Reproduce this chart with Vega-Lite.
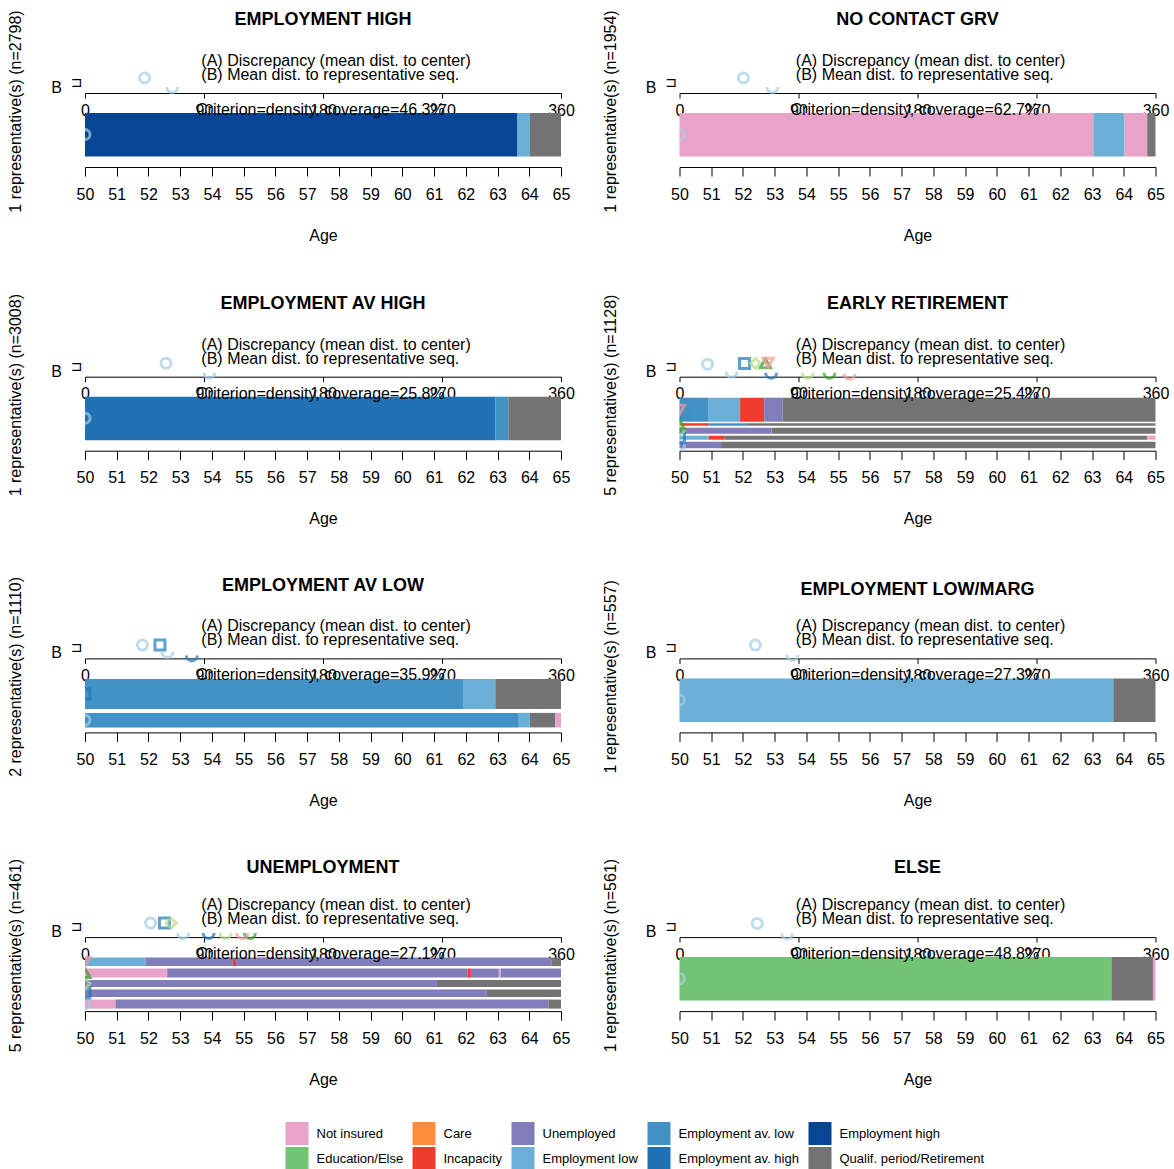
{
"$schema": "https://vega.github.io/schema/vega-lite/v6.json",
"background": "white",
"padding": {"left": 7, "top": 9, "right": 0, "bottom": 0},
"config": {
 "font": "Liberation Sans",
 "view": {"stroke": null},
 "title": {"fontSize": 18, "fontWeight": "bold", "color": "#000", "offset": -19, "anchor": "middle", "font": "Liberation Sans"},
 "axis": {"grid": false, "domainColor": "#000", "tickColor": "#000", "labelColor": "#000", "titleColor": "#000", "labelFontSize": 16, "titleFontSize": 16, "titleFontWeight": "normal", "labelFlush": false, "labelOverlap": false, "labelFont": "Liberation Sans", "titleFont": "Liberation Sans"},
 "axisBottom": {"tickSize": 9, "labelPadding": 10, "titlePadding": 25},
 "axisTop": {"tickSize": -5, "labelPadding": -12, "labelBaseline": "middle"},
 "legend": {"labelFont": "Liberation Sans", "labelColor": "#000"},
 "text": {"fontSize": 16, "font": "Liberation Sans", "color": "#000"}
},
"datasets": {
 "bars": [
  {"p":"EH","s":50,"e":63.63,"y0":20,"y1":63.5,"st":"Employment high"},
  {"p":"EH","s":63.63,"e":64.02,"y0":20,"y1":63.5,"st":"Employment low"},
  {"p":"EH","s":64.02,"e":65,"y0":20,"y1":63.5,"st":"Qualif. period/Retirement"},
  {"p":"NC","s":50,"e":63.04,"y0":20,"y1":63.5,"st":"Not insured"},
  {"p":"NC","s":63.04,"e":64.02,"y0":20,"y1":63.5,"st":"Employment low"},
  {"p":"NC","s":64.02,"e":64.74,"y0":20,"y1":63.5,"st":"Not insured"},
  {"p":"NC","s":64.74,"e":65,"y0":20,"y1":63.5,"st":"Qualif. period/Retirement"},
  {"p":"AH","s":50,"e":62.93,"y0":20,"y1":63.5,"st":"Employment av. high"},
  {"p":"AH","s":62.93,"e":63.34,"y0":20,"y1":63.5,"st":"Employment av. low"},
  {"p":"AH","s":63.34,"e":65,"y0":20,"y1":63.5,"st":"Qualif. period/Retirement"},
  {"p":"ER","s":50,"e":50.92,"y0":21,"y1":45,"st":"Employment av. low"},
  {"p":"ER","s":50.92,"e":51.91,"y0":21,"y1":45,"st":"Employment low"},
  {"p":"ER","s":51.91,"e":52.67,"y0":21,"y1":45,"st":"Incapacity"},
  {"p":"ER","s":52.67,"e":53.25,"y0":21,"y1":45,"st":"Unemployed"},
  {"p":"ER","s":53.25,"e":65,"y0":21,"y1":45,"st":"Qualif. period/Retirement"},
  {"p":"ER","s":50,"e":50.92,"y0":46.5,"y1":49,"st":"Incapacity"},
  {"p":"ER","s":50.92,"e":52.1,"y0":46.5,"y1":49,"st":"Employment av. low"},
  {"p":"ER","s":52.1,"e":65,"y0":46.5,"y1":49,"st":"Qualif. period/Retirement"},
  {"p":"ER","s":50,"e":52.9,"y0":51,"y1":57,"st":"Unemployed"},
  {"p":"ER","s":52.9,"e":65,"y0":51,"y1":57,"st":"Qualif. period/Retirement"},
  {"p":"ER","s":50,"e":50.92,"y0":59,"y1":63,"st":"Employment low"},
  {"p":"ER","s":50.92,"e":51.41,"y0":59,"y1":63,"st":"Incapacity"},
  {"p":"ER","s":51.41,"e":64.73,"y0":59,"y1":63,"st":"Qualif. period/Retirement"},
  {"p":"ER","s":64.73,"e":65,"y0":59,"y1":63,"st":"Not insured"},
  {"p":"ER","s":50,"e":51.31,"y0":65,"y1":71.5,"st":"Unemployed"},
  {"p":"ER","s":51.31,"e":65,"y0":65,"y1":71.5,"st":"Qualif. period/Retirement"},
  {"p":"AL","s":50,"e":61.91,"y0":20.5,"y1":50.5,"st":"Employment av. low"},
  {"p":"AL","s":61.91,"e":62.93,"y0":20.5,"y1":50.5,"st":"Employment low"},
  {"p":"AL","s":62.93,"e":65,"y0":20.5,"y1":50.5,"st":"Qualif. period/Retirement"},
  {"p":"AL","s":50,"e":63.67,"y0":54.5,"y1":69,"st":"Employment av. low"},
  {"p":"AL","s":63.67,"e":64.02,"y0":54.5,"y1":69,"st":"Employment low"},
  {"p":"AL","s":64.02,"e":64.82,"y0":54.5,"y1":69,"st":"Qualif. period/Retirement"},
  {"p":"AL","s":64.82,"e":65,"y0":54.5,"y1":69,"st":"Not insured"},
  {"p":"LM","s":50,"e":63.67,"y0":20,"y1":63.5,"st":"Employment low"},
  {"p":"LM","s":63.67,"e":65,"y0":20,"y1":63.5,"st":"Qualif. period/Retirement"},
  {"p":"UN","s":50,"e":51.91,"y0":20.5,"y1":29,"st":"Employment low"},
  {"p":"UN","s":51.91,"e":54.66,"y0":20.5,"y1":29,"st":"Unemployed"},
  {"p":"UN","s":54.66,"e":54.76,"y0":20.5,"y1":29,"st":"Incapacity"},
  {"p":"UN","s":54.76,"e":64.71,"y0":20.5,"y1":29,"st":"Unemployed"},
  {"p":"UN","s":64.71,"e":65,"y0":20.5,"y1":29,"st":"Qualif. period/Retirement"},
  {"p":"UN","s":50,"e":52.59,"y0":31.5,"y1":40.5,"st":"Not insured"},
  {"p":"UN","s":52.59,"e":62.06,"y0":31.5,"y1":40.5,"st":"Unemployed"},
  {"p":"UN","s":62.06,"e":62.16,"y0":31.5,"y1":40.5,"st":"Incapacity"},
  {"p":"UN","s":62.16,"e":63.04,"y0":31.5,"y1":40.5,"st":"Unemployed"},
  {"p":"UN","s":63.04,"e":63.1,"y0":31.5,"y1":40.5,"st":"Not insured"},
  {"p":"UN","s":63.1,"e":65,"y0":31.5,"y1":40.5,"st":"Unemployed"},
  {"p":"UN","s":50,"e":61.09,"y0":43,"y1":50,"st":"Unemployed"},
  {"p":"UN","s":61.09,"e":65,"y0":43,"y1":50,"st":"Qualif. period/Retirement"},
  {"p":"UN","s":50,"e":62.66,"y0":52.5,"y1":60,"st":"Unemployed"},
  {"p":"UN","s":62.66,"e":65,"y0":52.5,"y1":60,"st":"Qualif. period/Retirement"},
  {"p":"UN","s":50,"e":50.96,"y0":62.5,"y1":71.5,"st":"Not insured"},
  {"p":"UN","s":50.96,"e":64.6,"y0":62.5,"y1":71.5,"st":"Unemployed"},
  {"p":"UN","s":64.6,"e":65,"y0":62.5,"y1":71.5,"st":"Qualif. period/Retirement"},
  {"p":"EL","s":50,"e":63.61,"y0":20,"y1":63.5,"st":"Education/Else"},
  {"p":"EL","s":63.61,"e":64.92,"y0":20,"y1":63.5,"st":"Qualif. period/Retirement"},
  {"p":"EL","s":64.92,"e":65,"y0":20,"y1":63.5,"st":"Not insured"}
 ],
 "marks": [
  {"p":"EH","r":"1","k":"A","d":45,"y":-15},
  {"p":"EH","r":"1","k":"B","d":66,"y":-6},
  {"p":"EH","r":"1","k":"L","d":0,"y":41.5},
  {"p":"NC","r":"1","k":"A","d":48.4,"y":-15},
  {"p":"NC","r":"1","k":"B","d":70.3,"y":-6},
  {"p":"NC","r":"1","k":"L","d":0,"y":41.5},
  {"p":"AH","r":"1","k":"A","d":61.3,"y":-13.5},
  {"p":"AH","r":"1","k":"B","d":94,"y":-4},
  {"p":"AH","r":"1","k":"L","d":0,"y":41.5},
  {"p":"ER","r":"1","k":"A","d":21.2,"y":-12.5},
  {"p":"ER","r":"1","k":"B","d":39.3,"y":-5},
  {"p":"ER","r":"1","k":"L","d":0,"y":68.5},
  {"p":"ER","r":"2","k":"A","d":49.2,"y":-13.3},
  {"p":"ER","r":"2","k":"B","d":69.3,"y":-4},
  {"p":"ER","r":"2","k":"L","d":0,"y":61},
  {"p":"ER","r":"3","k":"A","d":57.5,"y":-13.3},
  {"p":"ER","r":"3","k":"B","d":97,"y":-4},
  {"p":"ER","r":"3","k":"L","d":0,"y":54},
  {"p":"ER","r":"4","k":"A","d":65,"y":-13.3},
  {"p":"ER","r":"4","k":"B","d":113.4,"y":-4},
  {"p":"ER","r":"4","k":"L","d":0,"y":47.7},
  {"p":"ER","r":"5","k":"A","d":67,"y":-14},
  {"p":"ER","r":"5","k":"B","d":128.6,"y":-3},
  {"p":"ER","r":"5","k":"L","d":0,"y":33},
  {"p":"AL","r":"1","k":"A","d":43.4,"y":-13.3},
  {"p":"AL","r":"1","k":"B","d":62.4,"y":-6.5},
  {"p":"AL","r":"1","k":"L","d":0,"y":61.7},
  {"p":"AL","r":"2","k":"A","d":56.7,"y":-13.3},
  {"p":"AL","r":"2","k":"B","d":80.8,"y":-3},
  {"p":"AL","r":"2","k":"L","d":0,"y":35.5},
  {"p":"LM","r":"1","k":"A","d":57.4,"y":-13.3},
  {"p":"LM","r":"1","k":"B","d":85.5,"y":-3.5},
  {"p":"LM","r":"1","k":"L","d":0,"y":41.5},
  {"p":"UN","r":"1","k":"A","d":49.6,"y":-14},
  {"p":"UN","r":"1","k":"B","d":74.3,"y":-4},
  {"p":"UN","r":"1","k":"L","d":0,"y":67},
  {"p":"UN","r":"2","k":"A","d":60.1,"y":-14},
  {"p":"UN","r":"2","k":"B","d":93.5,"y":-4},
  {"p":"UN","r":"2","k":"L","d":0,"y":56},
  {"p":"UN","r":"3","k":"A","d":65.2,"y":-14},
  {"p":"UN","r":"3","k":"B","d":106.3,"y":-4},
  {"p":"UN","r":"3","k":"L","d":0,"y":46.5},
  {"p":"UN","r":"4","k":"B","d":124.7,"y":-4},
  {"p":"UN","r":"4","k":"L","d":0,"y":36},
  {"p":"UN","r":"5","k":"B","d":119,"y":-4},
  {"p":"UN","r":"5","k":"L","d":0,"y":24.7},
  {"p":"EL","r":"1","k":"A","d":58.8,"y":-13.7},
  {"p":"EL","r":"1","k":"B","d":81.3,"y":-3.5},
  {"p":"EL","r":"1","k":"L","d":0,"y":41.5}
 ]
},
"columns": 2,
"spacing": {"row": 49.7, "column": 26.5},
"resolve": {"scale": {"color": "shared", "stroke": "shared", "shape": "shared"}, "legend": {"color": "shared"}},
"concat": [
 {"title": "EMPLOYMENT HIGH", "width": 476, "height": 74, "resolve": {"scale": {"x": "independent"}},
  "layer": [
   {"data": {"name": "bars"}, "transform": [{"filter": "datum.p === 'EH'"}], "mark": {"type": "rect"},
    "encoding": {
     "x": {"field": "s", "type": "quantitative", "scale": {"domain": [50, 65], "nice": false, "zero": false}, "axis": {"orient": "bottom", "title": "Age", "values": [50,51,52,53,54,55,56,57,58,59,60,61,62,63,64,65], "format": "d"}},
     "x2": {"field": "e"},
     "y": {"field": "y0", "type": "quantitative", "scale": {"domain": [0, 74], "reverse": true, "nice": false, "zero": false}, "axis": {"orient": "left", "title": "1 representative(s) (n=2798)", "ticks": false, "labels": false, "domain": false, "titlePadding": 61.5, "titleY": 18}},
     "y2": {"field": "y1"},
     "color": {"field": "st", "type": "nominal", "scale": {"domain": ["Not insured","Care","Unemployed","Employment av. low","Employment high","Education/Else","Incapacity","Employment low","Employment av. high","Qualif. period/Retirement"], "range": ["#e7a3c8","#fd8d3c","#807dba","#4292c6","#084594","#74c476","#ef3b2c","#6baed6","#2171b5","#737373"]}, "legend": {"orient": "none", "legendX": 200.5, "legendY": 1029, "columns": 5, "title": null, "symbolType": "square", "symbolSize": 529, "symbolStrokeWidth": 0, "symbolOpacity": 1, "labelFontSize": 13, "labelOffset": 8, "rowPadding": 2, "columnPadding": 9, "direction": "horizontal", "padding": 0}}
    }},
   {"layer": [
     {"data": {"name": "marks"}, "transform": [{"filter": "datum.p === 'EH' && datum.k === 'A'"}], "mark": {"type": "point", "filled": false, "strokeWidth": 3, "size": 100},
      "encoding": {
       "x": {"field": "d", "type": "quantitative", "scale": {"domain": [0, 360], "nice": false, "zero": false}, "axis": {"orient": "top", "title": null, "values": [0, 90, 180, 270, 360]}},
       "y": {"field": "y", "type": "quantitative", "scale": {"domain": [0, 74], "reverse": true, "nice": false, "zero": false}},
       "stroke": {"field": "r", "type": "nominal", "scale": {"domain": ["1","2","3","4","5"], "range": ["#a6cee3","#1f78b4","#b2df8a","#33a02c","#fb9a99"]}, "legend": null},
       "shape": {"field": "r", "type": "nominal", "scale": {"domain": ["1","2","3","4","5"], "range": ["circle","square","diamond","triangle-up","triangle-down"]}, "legend": null}
      }},
     {"data": {"name": "marks"}, "transform": [{"filter": "datum.p === 'EH' && datum.k === 'B'"}], "mark": {"type": "point", "filled": false, "strokeWidth": 3, "size": 120, "shape": "M-1,0A1,1,0,0,0,1,0"},
      "encoding": {
       "x": {"field": "d", "type": "quantitative", "scale": {"domain": [0, 360], "nice": false, "zero": false}},
       "y": {"field": "y", "type": "quantitative", "scale": {"domain": [0, 74], "reverse": true, "nice": false, "zero": false}},
       "stroke": {"field": "r", "type": "nominal", "scale": {"domain": ["1","2","3","4","5"], "range": ["#a6cee3","#1f78b4","#b2df8a","#33a02c","#fb9a99"]}, "legend": null}
      }},
     {"data": {"name": "marks"}, "transform": [{"filter": "datum.p === 'EH' && datum.k === 'L'"}], "mark": {"type": "point", "filled": false, "strokeWidth": 3, "size": 100, "clip": true},
      "encoding": {
       "x": {"field": "d", "type": "quantitative", "scale": {"domain": [0, 360], "nice": false, "zero": false}},
       "y": {"field": "y", "type": "quantitative", "scale": {"domain": [0, 74], "reverse": true, "nice": false, "zero": false}},
       "stroke": {"field": "r", "type": "nominal", "scale": {"domain": ["1","2","3","4","5"], "range": ["#a6cee3","#1f78b4","#b2df8a","#33a02c","#fb9a99"]}, "legend": null},
       "shape": {"field": "r", "type": "nominal", "scale": {"domain": ["1","2","3","4","5"], "range": ["circle","square","diamond","triangle-up","triangle-down"]}, "legend": null}
      }},
     {"data": {"values": [{}]}, "mark": {"type": "text", "align": "center", "baseline": "middle", "fontSize": 16},
      "encoding": {"x": {"datum": 178, "scale": {"domain": [0, 360], "nice": false, "zero": false}}, "y": {"datum": 17, "scale": {"domain": [0, 74], "reverse": true, "nice": false, "zero": false}}, "text": {"value": "Criterion=density, coverage=46.3%"}}},
     {"data": {"values": [{}]}, "mark": {"type": "text", "align": "left", "baseline": "middle", "fontSize": 16, "lineHeight": 14},
      "encoding": {"x": {"datum": 88, "scale": {"domain": [0, 360], "nice": false, "zero": false}}, "y": {"datum": -32, "scale": {"domain": [0, 74], "reverse": true, "nice": false, "zero": false}}, "text": {"value": ["(A) Discrepancy (mean dist. to center)", "(B) Mean dist. to representative seq."]}}},
     {"data": {"values": [{}]}, "mark": {"type": "text", "align": "center", "baseline": "middle", "fontSize": 16},
      "encoding": {"x": {"datum": -21.5, "scale": {"domain": [0, 360], "nice": false, "zero": false}}, "y": {"datum": -5, "scale": {"domain": [0, 74], "reverse": true, "nice": false, "zero": false}}, "text": {"value": "B"}}},
     {"data": {"values": [{}]}, "mark": {"type": "text", "align": "center", "baseline": "middle", "fontSize": 14, "font": "DejaVu Sans"},
      "encoding": {"x": {"datum": -6.4, "scale": {"domain": [0, 360], "nice": false, "zero": false}}, "y": {"datum": -10, "scale": {"domain": [0, 74], "reverse": true, "nice": false, "zero": false}}, "text": {"value": "⊐"}}}
   ]}
  ]},
 {"title": "NO CONTACT GRV", "width": 476, "height": 74, "resolve": {"scale": {"x": "independent"}},
  "layer": [
   {"data": {"name": "bars"}, "transform": [{"filter": "datum.p === 'NC'"}], "mark": {"type": "rect"},
    "encoding": {
     "x": {"field": "s", "type": "quantitative", "scale": {"domain": [50, 65], "nice": false, "zero": false}, "axis": {"orient": "bottom", "title": "Age", "values": [50,51,52,53,54,55,56,57,58,59,60,61,62,63,64,65], "format": "d"}},
     "x2": {"field": "e"},
     "y": {"field": "y0", "type": "quantitative", "scale": {"domain": [0, 74], "reverse": true, "nice": false, "zero": false}, "axis": {"orient": "left", "title": "1 representative(s) (n=1954)", "ticks": false, "labels": false, "domain": false, "titlePadding": 61.5, "titleY": 18}},
     "y2": {"field": "y1"},
     "color": {"field": "st", "type": "nominal", "scale": {"domain": ["Not insured","Care","Unemployed","Employment av. low","Employment high","Education/Else","Incapacity","Employment low","Employment av. high","Qualif. period/Retirement"], "range": ["#e7a3c8","#fd8d3c","#807dba","#4292c6","#084594","#74c476","#ef3b2c","#6baed6","#2171b5","#737373"]}, "legend": {"orient": "none", "legendX": 200.5, "legendY": 1029, "columns": 5, "title": null, "symbolType": "square", "symbolSize": 529, "symbolStrokeWidth": 0, "symbolOpacity": 1, "labelFontSize": 13, "labelOffset": 8, "rowPadding": 2, "columnPadding": 9, "direction": "horizontal", "padding": 0}}
    }},
   {"layer": [
     {"data": {"name": "marks"}, "transform": [{"filter": "datum.p === 'NC' && datum.k === 'A'"}], "mark": {"type": "point", "filled": false, "strokeWidth": 3, "size": 100},
      "encoding": {
       "x": {"field": "d", "type": "quantitative", "scale": {"domain": [0, 360], "nice": false, "zero": false}, "axis": {"orient": "top", "title": null, "values": [0, 90, 180, 270, 360]}},
       "y": {"field": "y", "type": "quantitative", "scale": {"domain": [0, 74], "reverse": true, "nice": false, "zero": false}},
       "stroke": {"field": "r", "type": "nominal", "scale": {"domain": ["1","2","3","4","5"], "range": ["#a6cee3","#1f78b4","#b2df8a","#33a02c","#fb9a99"]}, "legend": null},
       "shape": {"field": "r", "type": "nominal", "scale": {"domain": ["1","2","3","4","5"], "range": ["circle","square","diamond","triangle-up","triangle-down"]}, "legend": null}
      }},
     {"data": {"name": "marks"}, "transform": [{"filter": "datum.p === 'NC' && datum.k === 'B'"}], "mark": {"type": "point", "filled": false, "strokeWidth": 3, "size": 120, "shape": "M-1,0A1,1,0,0,0,1,0"},
      "encoding": {
       "x": {"field": "d", "type": "quantitative", "scale": {"domain": [0, 360], "nice": false, "zero": false}},
       "y": {"field": "y", "type": "quantitative", "scale": {"domain": [0, 74], "reverse": true, "nice": false, "zero": false}},
       "stroke": {"field": "r", "type": "nominal", "scale": {"domain": ["1","2","3","4","5"], "range": ["#a6cee3","#1f78b4","#b2df8a","#33a02c","#fb9a99"]}, "legend": null}
      }},
     {"data": {"name": "marks"}, "transform": [{"filter": "datum.p === 'NC' && datum.k === 'L'"}], "mark": {"type": "point", "filled": false, "strokeWidth": 3, "size": 100, "clip": true},
      "encoding": {
       "x": {"field": "d", "type": "quantitative", "scale": {"domain": [0, 360], "nice": false, "zero": false}},
       "y": {"field": "y", "type": "quantitative", "scale": {"domain": [0, 74], "reverse": true, "nice": false, "zero": false}},
       "stroke": {"field": "r", "type": "nominal", "scale": {"domain": ["1","2","3","4","5"], "range": ["#a6cee3","#1f78b4","#b2df8a","#33a02c","#fb9a99"]}, "legend": null},
       "shape": {"field": "r", "type": "nominal", "scale": {"domain": ["1","2","3","4","5"], "range": ["circle","square","diamond","triangle-up","triangle-down"]}, "legend": null}
      }},
     {"data": {"values": [{}]}, "mark": {"type": "text", "align": "center", "baseline": "middle", "fontSize": 16},
      "encoding": {"x": {"datum": 178, "scale": {"domain": [0, 360], "nice": false, "zero": false}}, "y": {"datum": 17, "scale": {"domain": [0, 74], "reverse": true, "nice": false, "zero": false}}, "text": {"value": "Criterion=density, coverage=62.7%"}}},
     {"data": {"values": [{}]}, "mark": {"type": "text", "align": "left", "baseline": "middle", "fontSize": 16, "lineHeight": 14},
      "encoding": {"x": {"datum": 88, "scale": {"domain": [0, 360], "nice": false, "zero": false}}, "y": {"datum": -32, "scale": {"domain": [0, 74], "reverse": true, "nice": false, "zero": false}}, "text": {"value": ["(A) Discrepancy (mean dist. to center)", "(B) Mean dist. to representative seq."]}}},
     {"data": {"values": [{}]}, "mark": {"type": "text", "align": "center", "baseline": "middle", "fontSize": 16},
      "encoding": {"x": {"datum": -21.5, "scale": {"domain": [0, 360], "nice": false, "zero": false}}, "y": {"datum": -5, "scale": {"domain": [0, 74], "reverse": true, "nice": false, "zero": false}}, "text": {"value": "B"}}},
     {"data": {"values": [{}]}, "mark": {"type": "text", "align": "center", "baseline": "middle", "fontSize": 14, "font": "DejaVu Sans"},
      "encoding": {"x": {"datum": -6.4, "scale": {"domain": [0, 360], "nice": false, "zero": false}}, "y": {"datum": -10, "scale": {"domain": [0, 74], "reverse": true, "nice": false, "zero": false}}, "text": {"value": "⊐"}}}
   ]}
  ]},
 {"title": "EMPLOYMENT AV HIGH", "width": 476, "height": 74, "resolve": {"scale": {"x": "independent"}},
  "layer": [
   {"data": {"name": "bars"}, "transform": [{"filter": "datum.p === 'AH'"}], "mark": {"type": "rect"},
    "encoding": {
     "x": {"field": "s", "type": "quantitative", "scale": {"domain": [50, 65], "nice": false, "zero": false}, "axis": {"orient": "bottom", "title": "Age", "values": [50,51,52,53,54,55,56,57,58,59,60,61,62,63,64,65], "format": "d"}},
     "x2": {"field": "e"},
     "y": {"field": "y0", "type": "quantitative", "scale": {"domain": [0, 74], "reverse": true, "nice": false, "zero": false}, "axis": {"orient": "left", "title": "1 representative(s) (n=3008)", "ticks": false, "labels": false, "domain": false, "titlePadding": 61.5, "titleY": 18}},
     "y2": {"field": "y1"},
     "color": {"field": "st", "type": "nominal", "scale": {"domain": ["Not insured","Care","Unemployed","Employment av. low","Employment high","Education/Else","Incapacity","Employment low","Employment av. high","Qualif. period/Retirement"], "range": ["#e7a3c8","#fd8d3c","#807dba","#4292c6","#084594","#74c476","#ef3b2c","#6baed6","#2171b5","#737373"]}, "legend": {"orient": "none", "legendX": 200.5, "legendY": 1029, "columns": 5, "title": null, "symbolType": "square", "symbolSize": 529, "symbolStrokeWidth": 0, "symbolOpacity": 1, "labelFontSize": 13, "labelOffset": 8, "rowPadding": 2, "columnPadding": 9, "direction": "horizontal", "padding": 0}}
    }},
   {"layer": [
     {"data": {"name": "marks"}, "transform": [{"filter": "datum.p === 'AH' && datum.k === 'A'"}], "mark": {"type": "point", "filled": false, "strokeWidth": 3, "size": 100},
      "encoding": {
       "x": {"field": "d", "type": "quantitative", "scale": {"domain": [0, 360], "nice": false, "zero": false}, "axis": {"orient": "top", "title": null, "values": [0, 90, 180, 270, 360]}},
       "y": {"field": "y", "type": "quantitative", "scale": {"domain": [0, 74], "reverse": true, "nice": false, "zero": false}},
       "stroke": {"field": "r", "type": "nominal", "scale": {"domain": ["1","2","3","4","5"], "range": ["#a6cee3","#1f78b4","#b2df8a","#33a02c","#fb9a99"]}, "legend": null},
       "shape": {"field": "r", "type": "nominal", "scale": {"domain": ["1","2","3","4","5"], "range": ["circle","square","diamond","triangle-up","triangle-down"]}, "legend": null}
      }},
     {"data": {"name": "marks"}, "transform": [{"filter": "datum.p === 'AH' && datum.k === 'B'"}], "mark": {"type": "point", "filled": false, "strokeWidth": 3, "size": 120, "shape": "M-1,0A1,1,0,0,0,1,0"},
      "encoding": {
       "x": {"field": "d", "type": "quantitative", "scale": {"domain": [0, 360], "nice": false, "zero": false}},
       "y": {"field": "y", "type": "quantitative", "scale": {"domain": [0, 74], "reverse": true, "nice": false, "zero": false}},
       "stroke": {"field": "r", "type": "nominal", "scale": {"domain": ["1","2","3","4","5"], "range": ["#a6cee3","#1f78b4","#b2df8a","#33a02c","#fb9a99"]}, "legend": null}
      }},
     {"data": {"name": "marks"}, "transform": [{"filter": "datum.p === 'AH' && datum.k === 'L'"}], "mark": {"type": "point", "filled": false, "strokeWidth": 3, "size": 100, "clip": true},
      "encoding": {
       "x": {"field": "d", "type": "quantitative", "scale": {"domain": [0, 360], "nice": false, "zero": false}},
       "y": {"field": "y", "type": "quantitative", "scale": {"domain": [0, 74], "reverse": true, "nice": false, "zero": false}},
       "stroke": {"field": "r", "type": "nominal", "scale": {"domain": ["1","2","3","4","5"], "range": ["#a6cee3","#1f78b4","#b2df8a","#33a02c","#fb9a99"]}, "legend": null},
       "shape": {"field": "r", "type": "nominal", "scale": {"domain": ["1","2","3","4","5"], "range": ["circle","square","diamond","triangle-up","triangle-down"]}, "legend": null}
      }},
     {"data": {"values": [{}]}, "mark": {"type": "text", "align": "center", "baseline": "middle", "fontSize": 16},
      "encoding": {"x": {"datum": 178, "scale": {"domain": [0, 360], "nice": false, "zero": false}}, "y": {"datum": 17, "scale": {"domain": [0, 74], "reverse": true, "nice": false, "zero": false}}, "text": {"value": "Criterion=density, coverage=25.8%"}}},
     {"data": {"values": [{}]}, "mark": {"type": "text", "align": "left", "baseline": "middle", "fontSize": 16, "lineHeight": 14},
      "encoding": {"x": {"datum": 88, "scale": {"domain": [0, 360], "nice": false, "zero": false}}, "y": {"datum": -32, "scale": {"domain": [0, 74], "reverse": true, "nice": false, "zero": false}}, "text": {"value": ["(A) Discrepancy (mean dist. to center)", "(B) Mean dist. to representative seq."]}}},
     {"data": {"values": [{}]}, "mark": {"type": "text", "align": "center", "baseline": "middle", "fontSize": 16},
      "encoding": {"x": {"datum": -21.5, "scale": {"domain": [0, 360], "nice": false, "zero": false}}, "y": {"datum": -5, "scale": {"domain": [0, 74], "reverse": true, "nice": false, "zero": false}}, "text": {"value": "B"}}},
     {"data": {"values": [{}]}, "mark": {"type": "text", "align": "center", "baseline": "middle", "fontSize": 14, "font": "DejaVu Sans"},
      "encoding": {"x": {"datum": -6.4, "scale": {"domain": [0, 360], "nice": false, "zero": false}}, "y": {"datum": -10, "scale": {"domain": [0, 74], "reverse": true, "nice": false, "zero": false}}, "text": {"value": "⊐"}}}
   ]}
  ]},
 {"title": "EARLY RETIREMENT", "width": 476, "height": 74, "resolve": {"scale": {"x": "independent"}},
  "layer": [
   {"data": {"name": "bars"}, "transform": [{"filter": "datum.p === 'ER'"}], "mark": {"type": "rect"},
    "encoding": {
     "x": {"field": "s", "type": "quantitative", "scale": {"domain": [50, 65], "nice": false, "zero": false}, "axis": {"orient": "bottom", "title": "Age", "values": [50,51,52,53,54,55,56,57,58,59,60,61,62,63,64,65], "format": "d"}},
     "x2": {"field": "e"},
     "y": {"field": "y0", "type": "quantitative", "scale": {"domain": [0, 74], "reverse": true, "nice": false, "zero": false}, "axis": {"orient": "left", "title": "5 representative(s) (n=1128)", "ticks": false, "labels": false, "domain": false, "titlePadding": 61.5, "titleY": 18}},
     "y2": {"field": "y1"},
     "color": {"field": "st", "type": "nominal", "scale": {"domain": ["Not insured","Care","Unemployed","Employment av. low","Employment high","Education/Else","Incapacity","Employment low","Employment av. high","Qualif. period/Retirement"], "range": ["#e7a3c8","#fd8d3c","#807dba","#4292c6","#084594","#74c476","#ef3b2c","#6baed6","#2171b5","#737373"]}, "legend": {"orient": "none", "legendX": 200.5, "legendY": 1029, "columns": 5, "title": null, "symbolType": "square", "symbolSize": 529, "symbolStrokeWidth": 0, "symbolOpacity": 1, "labelFontSize": 13, "labelOffset": 8, "rowPadding": 2, "columnPadding": 9, "direction": "horizontal", "padding": 0}}
    }},
   {"layer": [
     {"data": {"name": "marks"}, "transform": [{"filter": "datum.p === 'ER' && datum.k === 'A'"}], "mark": {"type": "point", "filled": false, "strokeWidth": 3, "size": 100},
      "encoding": {
       "x": {"field": "d", "type": "quantitative", "scale": {"domain": [0, 360], "nice": false, "zero": false}, "axis": {"orient": "top", "title": null, "values": [0, 90, 180, 270, 360]}},
       "y": {"field": "y", "type": "quantitative", "scale": {"domain": [0, 74], "reverse": true, "nice": false, "zero": false}},
       "stroke": {"field": "r", "type": "nominal", "scale": {"domain": ["1","2","3","4","5"], "range": ["#a6cee3","#1f78b4","#b2df8a","#33a02c","#fb9a99"]}, "legend": null},
       "shape": {"field": "r", "type": "nominal", "scale": {"domain": ["1","2","3","4","5"], "range": ["circle","square","diamond","triangle-up","triangle-down"]}, "legend": null}
      }},
     {"data": {"name": "marks"}, "transform": [{"filter": "datum.p === 'ER' && datum.k === 'B'"}], "mark": {"type": "point", "filled": false, "strokeWidth": 3, "size": 120, "shape": "M-1,0A1,1,0,0,0,1,0"},
      "encoding": {
       "x": {"field": "d", "type": "quantitative", "scale": {"domain": [0, 360], "nice": false, "zero": false}},
       "y": {"field": "y", "type": "quantitative", "scale": {"domain": [0, 74], "reverse": true, "nice": false, "zero": false}},
       "stroke": {"field": "r", "type": "nominal", "scale": {"domain": ["1","2","3","4","5"], "range": ["#a6cee3","#1f78b4","#b2df8a","#33a02c","#fb9a99"]}, "legend": null}
      }},
     {"data": {"name": "marks"}, "transform": [{"filter": "datum.p === 'ER' && datum.k === 'L'"}], "mark": {"type": "point", "filled": false, "strokeWidth": 3, "size": 100, "clip": true},
      "encoding": {
       "x": {"field": "d", "type": "quantitative", "scale": {"domain": [0, 360], "nice": false, "zero": false}},
       "y": {"field": "y", "type": "quantitative", "scale": {"domain": [0, 74], "reverse": true, "nice": false, "zero": false}},
       "stroke": {"field": "r", "type": "nominal", "scale": {"domain": ["1","2","3","4","5"], "range": ["#a6cee3","#1f78b4","#b2df8a","#33a02c","#fb9a99"]}, "legend": null},
       "shape": {"field": "r", "type": "nominal", "scale": {"domain": ["1","2","3","4","5"], "range": ["circle","square","diamond","triangle-up","triangle-down"]}, "legend": null}
      }},
     {"data": {"values": [{}]}, "mark": {"type": "text", "align": "center", "baseline": "middle", "fontSize": 16},
      "encoding": {"x": {"datum": 178, "scale": {"domain": [0, 360], "nice": false, "zero": false}}, "y": {"datum": 17, "scale": {"domain": [0, 74], "reverse": true, "nice": false, "zero": false}}, "text": {"value": "Criterion=density, coverage=25.4%"}}},
     {"data": {"values": [{}]}, "mark": {"type": "text", "align": "left", "baseline": "middle", "fontSize": 16, "lineHeight": 14},
      "encoding": {"x": {"datum": 88, "scale": {"domain": [0, 360], "nice": false, "zero": false}}, "y": {"datum": -32, "scale": {"domain": [0, 74], "reverse": true, "nice": false, "zero": false}}, "text": {"value": ["(A) Discrepancy (mean dist. to center)", "(B) Mean dist. to representative seq."]}}},
     {"data": {"values": [{}]}, "mark": {"type": "text", "align": "center", "baseline": "middle", "fontSize": 16},
      "encoding": {"x": {"datum": -21.5, "scale": {"domain": [0, 360], "nice": false, "zero": false}}, "y": {"datum": -5, "scale": {"domain": [0, 74], "reverse": true, "nice": false, "zero": false}}, "text": {"value": "B"}}},
     {"data": {"values": [{}]}, "mark": {"type": "text", "align": "center", "baseline": "middle", "fontSize": 14, "font": "DejaVu Sans"},
      "encoding": {"x": {"datum": -6.4, "scale": {"domain": [0, 360], "nice": false, "zero": false}}, "y": {"datum": -10, "scale": {"domain": [0, 74], "reverse": true, "nice": false, "zero": false}}, "text": {"value": "⊐"}}}
   ]}
  ]},
 {"title": "EMPLOYMENT AV LOW", "width": 476, "height": 74, "resolve": {"scale": {"x": "independent"}},
  "layer": [
   {"data": {"name": "bars"}, "transform": [{"filter": "datum.p === 'AL'"}], "mark": {"type": "rect"},
    "encoding": {
     "x": {"field": "s", "type": "quantitative", "scale": {"domain": [50, 65], "nice": false, "zero": false}, "axis": {"orient": "bottom", "title": "Age", "values": [50,51,52,53,54,55,56,57,58,59,60,61,62,63,64,65], "format": "d"}},
     "x2": {"field": "e"},
     "y": {"field": "y0", "type": "quantitative", "scale": {"domain": [0, 74], "reverse": true, "nice": false, "zero": false}, "axis": {"orient": "left", "title": "2 representative(s) (n=1110)", "ticks": false, "labels": false, "domain": false, "titlePadding": 61.5, "titleY": 18}},
     "y2": {"field": "y1"},
     "color": {"field": "st", "type": "nominal", "scale": {"domain": ["Not insured","Care","Unemployed","Employment av. low","Employment high","Education/Else","Incapacity","Employment low","Employment av. high","Qualif. period/Retirement"], "range": ["#e7a3c8","#fd8d3c","#807dba","#4292c6","#084594","#74c476","#ef3b2c","#6baed6","#2171b5","#737373"]}, "legend": {"orient": "none", "legendX": 200.5, "legendY": 1029, "columns": 5, "title": null, "symbolType": "square", "symbolSize": 529, "symbolStrokeWidth": 0, "symbolOpacity": 1, "labelFontSize": 13, "labelOffset": 8, "rowPadding": 2, "columnPadding": 9, "direction": "horizontal", "padding": 0}}
    }},
   {"layer": [
     {"data": {"name": "marks"}, "transform": [{"filter": "datum.p === 'AL' && datum.k === 'A'"}], "mark": {"type": "point", "filled": false, "strokeWidth": 3, "size": 100},
      "encoding": {
       "x": {"field": "d", "type": "quantitative", "scale": {"domain": [0, 360], "nice": false, "zero": false}, "axis": {"orient": "top", "title": null, "values": [0, 90, 180, 270, 360]}},
       "y": {"field": "y", "type": "quantitative", "scale": {"domain": [0, 74], "reverse": true, "nice": false, "zero": false}},
       "stroke": {"field": "r", "type": "nominal", "scale": {"domain": ["1","2","3","4","5"], "range": ["#a6cee3","#1f78b4","#b2df8a","#33a02c","#fb9a99"]}, "legend": null},
       "shape": {"field": "r", "type": "nominal", "scale": {"domain": ["1","2","3","4","5"], "range": ["circle","square","diamond","triangle-up","triangle-down"]}, "legend": null}
      }},
     {"data": {"name": "marks"}, "transform": [{"filter": "datum.p === 'AL' && datum.k === 'B'"}], "mark": {"type": "point", "filled": false, "strokeWidth": 3, "size": 120, "shape": "M-1,0A1,1,0,0,0,1,0"},
      "encoding": {
       "x": {"field": "d", "type": "quantitative", "scale": {"domain": [0, 360], "nice": false, "zero": false}},
       "y": {"field": "y", "type": "quantitative", "scale": {"domain": [0, 74], "reverse": true, "nice": false, "zero": false}},
       "stroke": {"field": "r", "type": "nominal", "scale": {"domain": ["1","2","3","4","5"], "range": ["#a6cee3","#1f78b4","#b2df8a","#33a02c","#fb9a99"]}, "legend": null}
      }},
     {"data": {"name": "marks"}, "transform": [{"filter": "datum.p === 'AL' && datum.k === 'L'"}], "mark": {"type": "point", "filled": false, "strokeWidth": 3, "size": 100, "clip": true},
      "encoding": {
       "x": {"field": "d", "type": "quantitative", "scale": {"domain": [0, 360], "nice": false, "zero": false}},
       "y": {"field": "y", "type": "quantitative", "scale": {"domain": [0, 74], "reverse": true, "nice": false, "zero": false}},
       "stroke": {"field": "r", "type": "nominal", "scale": {"domain": ["1","2","3","4","5"], "range": ["#a6cee3","#1f78b4","#b2df8a","#33a02c","#fb9a99"]}, "legend": null},
       "shape": {"field": "r", "type": "nominal", "scale": {"domain": ["1","2","3","4","5"], "range": ["circle","square","diamond","triangle-up","triangle-down"]}, "legend": null}
      }},
     {"data": {"values": [{}]}, "mark": {"type": "text", "align": "center", "baseline": "middle", "fontSize": 16},
      "encoding": {"x": {"datum": 178, "scale": {"domain": [0, 360], "nice": false, "zero": false}}, "y": {"datum": 17, "scale": {"domain": [0, 74], "reverse": true, "nice": false, "zero": false}}, "text": {"value": "Criterion=density, coverage=35.9%"}}},
     {"data": {"values": [{}]}, "mark": {"type": "text", "align": "left", "baseline": "middle", "fontSize": 16, "lineHeight": 14},
      "encoding": {"x": {"datum": 88, "scale": {"domain": [0, 360], "nice": false, "zero": false}}, "y": {"datum": -32, "scale": {"domain": [0, 74], "reverse": true, "nice": false, "zero": false}}, "text": {"value": ["(A) Discrepancy (mean dist. to center)", "(B) Mean dist. to representative seq."]}}},
     {"data": {"values": [{}]}, "mark": {"type": "text", "align": "center", "baseline": "middle", "fontSize": 16},
      "encoding": {"x": {"datum": -21.5, "scale": {"domain": [0, 360], "nice": false, "zero": false}}, "y": {"datum": -5, "scale": {"domain": [0, 74], "reverse": true, "nice": false, "zero": false}}, "text": {"value": "B"}}},
     {"data": {"values": [{}]}, "mark": {"type": "text", "align": "center", "baseline": "middle", "fontSize": 14, "font": "DejaVu Sans"},
      "encoding": {"x": {"datum": -6.4, "scale": {"domain": [0, 360], "nice": false, "zero": false}}, "y": {"datum": -10, "scale": {"domain": [0, 74], "reverse": true, "nice": false, "zero": false}}, "text": {"value": "⊐"}}}
   ]}
  ]},
 {"title": "EMPLOYMENT LOW/MARG", "width": 476, "height": 74, "resolve": {"scale": {"x": "independent"}},
  "layer": [
   {"data": {"name": "bars"}, "transform": [{"filter": "datum.p === 'LM'"}], "mark": {"type": "rect"},
    "encoding": {
     "x": {"field": "s", "type": "quantitative", "scale": {"domain": [50, 65], "nice": false, "zero": false}, "axis": {"orient": "bottom", "title": "Age", "values": [50,51,52,53,54,55,56,57,58,59,60,61,62,63,64,65], "format": "d"}},
     "x2": {"field": "e"},
     "y": {"field": "y0", "type": "quantitative", "scale": {"domain": [0, 74], "reverse": true, "nice": false, "zero": false}, "axis": {"orient": "left", "title": "1 representative(s) (n=557)", "ticks": false, "labels": false, "domain": false, "titlePadding": 61.5, "titleY": 18}},
     "y2": {"field": "y1"},
     "color": {"field": "st", "type": "nominal", "scale": {"domain": ["Not insured","Care","Unemployed","Employment av. low","Employment high","Education/Else","Incapacity","Employment low","Employment av. high","Qualif. period/Retirement"], "range": ["#e7a3c8","#fd8d3c","#807dba","#4292c6","#084594","#74c476","#ef3b2c","#6baed6","#2171b5","#737373"]}, "legend": {"orient": "none", "legendX": 200.5, "legendY": 1029, "columns": 5, "title": null, "symbolType": "square", "symbolSize": 529, "symbolStrokeWidth": 0, "symbolOpacity": 1, "labelFontSize": 13, "labelOffset": 8, "rowPadding": 2, "columnPadding": 9, "direction": "horizontal", "padding": 0}}
    }},
   {"layer": [
     {"data": {"name": "marks"}, "transform": [{"filter": "datum.p === 'LM' && datum.k === 'A'"}], "mark": {"type": "point", "filled": false, "strokeWidth": 3, "size": 100},
      "encoding": {
       "x": {"field": "d", "type": "quantitative", "scale": {"domain": [0, 360], "nice": false, "zero": false}, "axis": {"orient": "top", "title": null, "values": [0, 90, 180, 270, 360]}},
       "y": {"field": "y", "type": "quantitative", "scale": {"domain": [0, 74], "reverse": true, "nice": false, "zero": false}},
       "stroke": {"field": "r", "type": "nominal", "scale": {"domain": ["1","2","3","4","5"], "range": ["#a6cee3","#1f78b4","#b2df8a","#33a02c","#fb9a99"]}, "legend": null},
       "shape": {"field": "r", "type": "nominal", "scale": {"domain": ["1","2","3","4","5"], "range": ["circle","square","diamond","triangle-up","triangle-down"]}, "legend": null}
      }},
     {"data": {"name": "marks"}, "transform": [{"filter": "datum.p === 'LM' && datum.k === 'B'"}], "mark": {"type": "point", "filled": false, "strokeWidth": 3, "size": 120, "shape": "M-1,0A1,1,0,0,0,1,0"},
      "encoding": {
       "x": {"field": "d", "type": "quantitative", "scale": {"domain": [0, 360], "nice": false, "zero": false}},
       "y": {"field": "y", "type": "quantitative", "scale": {"domain": [0, 74], "reverse": true, "nice": false, "zero": false}},
       "stroke": {"field": "r", "type": "nominal", "scale": {"domain": ["1","2","3","4","5"], "range": ["#a6cee3","#1f78b4","#b2df8a","#33a02c","#fb9a99"]}, "legend": null}
      }},
     {"data": {"name": "marks"}, "transform": [{"filter": "datum.p === 'LM' && datum.k === 'L'"}], "mark": {"type": "point", "filled": false, "strokeWidth": 3, "size": 100, "clip": true},
      "encoding": {
       "x": {"field": "d", "type": "quantitative", "scale": {"domain": [0, 360], "nice": false, "zero": false}},
       "y": {"field": "y", "type": "quantitative", "scale": {"domain": [0, 74], "reverse": true, "nice": false, "zero": false}},
       "stroke": {"field": "r", "type": "nominal", "scale": {"domain": ["1","2","3","4","5"], "range": ["#a6cee3","#1f78b4","#b2df8a","#33a02c","#fb9a99"]}, "legend": null},
       "shape": {"field": "r", "type": "nominal", "scale": {"domain": ["1","2","3","4","5"], "range": ["circle","square","diamond","triangle-up","triangle-down"]}, "legend": null}
      }},
     {"data": {"values": [{}]}, "mark": {"type": "text", "align": "center", "baseline": "middle", "fontSize": 16},
      "encoding": {"x": {"datum": 178, "scale": {"domain": [0, 360], "nice": false, "zero": false}}, "y": {"datum": 17, "scale": {"domain": [0, 74], "reverse": true, "nice": false, "zero": false}}, "text": {"value": "Criterion=density, coverage=27.3%"}}},
     {"data": {"values": [{}]}, "mark": {"type": "text", "align": "left", "baseline": "middle", "fontSize": 16, "lineHeight": 14},
      "encoding": {"x": {"datum": 88, "scale": {"domain": [0, 360], "nice": false, "zero": false}}, "y": {"datum": -32, "scale": {"domain": [0, 74], "reverse": true, "nice": false, "zero": false}}, "text": {"value": ["(A) Discrepancy (mean dist. to center)", "(B) Mean dist. to representative seq."]}}},
     {"data": {"values": [{}]}, "mark": {"type": "text", "align": "center", "baseline": "middle", "fontSize": 16},
      "encoding": {"x": {"datum": -21.5, "scale": {"domain": [0, 360], "nice": false, "zero": false}}, "y": {"datum": -5, "scale": {"domain": [0, 74], "reverse": true, "nice": false, "zero": false}}, "text": {"value": "B"}}},
     {"data": {"values": [{}]}, "mark": {"type": "text", "align": "center", "baseline": "middle", "fontSize": 14, "font": "DejaVu Sans"},
      "encoding": {"x": {"datum": -6.4, "scale": {"domain": [0, 360], "nice": false, "zero": false}}, "y": {"datum": -10, "scale": {"domain": [0, 74], "reverse": true, "nice": false, "zero": false}}, "text": {"value": "⊐"}}}
   ]}
  ]},
 {"title": "UNEMPLOYMENT", "width": 476, "height": 74, "resolve": {"scale": {"x": "independent"}},
  "layer": [
   {"data": {"name": "bars"}, "transform": [{"filter": "datum.p === 'UN'"}], "mark": {"type": "rect"},
    "encoding": {
     "x": {"field": "s", "type": "quantitative", "scale": {"domain": [50, 65], "nice": false, "zero": false}, "axis": {"orient": "bottom", "title": "Age", "values": [50,51,52,53,54,55,56,57,58,59,60,61,62,63,64,65], "format": "d"}},
     "x2": {"field": "e"},
     "y": {"field": "y0", "type": "quantitative", "scale": {"domain": [0, 74], "reverse": true, "nice": false, "zero": false}, "axis": {"orient": "left", "title": "5 representative(s) (n=461)", "ticks": false, "labels": false, "domain": false, "titlePadding": 61.5, "titleY": 18}},
     "y2": {"field": "y1"},
     "color": {"field": "st", "type": "nominal", "scale": {"domain": ["Not insured","Care","Unemployed","Employment av. low","Employment high","Education/Else","Incapacity","Employment low","Employment av. high","Qualif. period/Retirement"], "range": ["#e7a3c8","#fd8d3c","#807dba","#4292c6","#084594","#74c476","#ef3b2c","#6baed6","#2171b5","#737373"]}, "legend": {"orient": "none", "legendX": 200.5, "legendY": 1029, "columns": 5, "title": null, "symbolType": "square", "symbolSize": 529, "symbolStrokeWidth": 0, "symbolOpacity": 1, "labelFontSize": 13, "labelOffset": 8, "rowPadding": 2, "columnPadding": 9, "direction": "horizontal", "padding": 0}}
    }},
   {"layer": [
     {"data": {"name": "marks"}, "transform": [{"filter": "datum.p === 'UN' && datum.k === 'A'"}], "mark": {"type": "point", "filled": false, "strokeWidth": 3, "size": 100},
      "encoding": {
       "x": {"field": "d", "type": "quantitative", "scale": {"domain": [0, 360], "nice": false, "zero": false}, "axis": {"orient": "top", "title": null, "values": [0, 90, 180, 270, 360]}},
       "y": {"field": "y", "type": "quantitative", "scale": {"domain": [0, 74], "reverse": true, "nice": false, "zero": false}},
       "stroke": {"field": "r", "type": "nominal", "scale": {"domain": ["1","2","3","4","5"], "range": ["#a6cee3","#1f78b4","#b2df8a","#33a02c","#fb9a99"]}, "legend": null},
       "shape": {"field": "r", "type": "nominal", "scale": {"domain": ["1","2","3","4","5"], "range": ["circle","square","diamond","triangle-up","triangle-down"]}, "legend": null}
      }},
     {"data": {"name": "marks"}, "transform": [{"filter": "datum.p === 'UN' && datum.k === 'B'"}], "mark": {"type": "point", "filled": false, "strokeWidth": 3, "size": 120, "shape": "M-1,0A1,1,0,0,0,1,0"},
      "encoding": {
       "x": {"field": "d", "type": "quantitative", "scale": {"domain": [0, 360], "nice": false, "zero": false}},
       "y": {"field": "y", "type": "quantitative", "scale": {"domain": [0, 74], "reverse": true, "nice": false, "zero": false}},
       "stroke": {"field": "r", "type": "nominal", "scale": {"domain": ["1","2","3","4","5"], "range": ["#a6cee3","#1f78b4","#b2df8a","#33a02c","#fb9a99"]}, "legend": null}
      }},
     {"data": {"name": "marks"}, "transform": [{"filter": "datum.p === 'UN' && datum.k === 'L'"}], "mark": {"type": "point", "filled": false, "strokeWidth": 3, "size": 100, "clip": true},
      "encoding": {
       "x": {"field": "d", "type": "quantitative", "scale": {"domain": [0, 360], "nice": false, "zero": false}},
       "y": {"field": "y", "type": "quantitative", "scale": {"domain": [0, 74], "reverse": true, "nice": false, "zero": false}},
       "stroke": {"field": "r", "type": "nominal", "scale": {"domain": ["1","2","3","4","5"], "range": ["#a6cee3","#1f78b4","#b2df8a","#33a02c","#fb9a99"]}, "legend": null},
       "shape": {"field": "r", "type": "nominal", "scale": {"domain": ["1","2","3","4","5"], "range": ["circle","square","diamond","triangle-up","triangle-down"]}, "legend": null}
      }},
     {"data": {"values": [{}]}, "mark": {"type": "text", "align": "center", "baseline": "middle", "fontSize": 16},
      "encoding": {"x": {"datum": 178, "scale": {"domain": [0, 360], "nice": false, "zero": false}}, "y": {"datum": 17, "scale": {"domain": [0, 74], "reverse": true, "nice": false, "zero": false}}, "text": {"value": "Criterion=density, coverage=27.1%"}}},
     {"data": {"values": [{}]}, "mark": {"type": "text", "align": "left", "baseline": "middle", "fontSize": 16, "lineHeight": 14},
      "encoding": {"x": {"datum": 88, "scale": {"domain": [0, 360], "nice": false, "zero": false}}, "y": {"datum": -32, "scale": {"domain": [0, 74], "reverse": true, "nice": false, "zero": false}}, "text": {"value": ["(A) Discrepancy (mean dist. to center)", "(B) Mean dist. to representative seq."]}}},
     {"data": {"values": [{}]}, "mark": {"type": "text", "align": "center", "baseline": "middle", "fontSize": 16},
      "encoding": {"x": {"datum": -21.5, "scale": {"domain": [0, 360], "nice": false, "zero": false}}, "y": {"datum": -5, "scale": {"domain": [0, 74], "reverse": true, "nice": false, "zero": false}}, "text": {"value": "B"}}},
     {"data": {"values": [{}]}, "mark": {"type": "text", "align": "center", "baseline": "middle", "fontSize": 14, "font": "DejaVu Sans"},
      "encoding": {"x": {"datum": -6.4, "scale": {"domain": [0, 360], "nice": false, "zero": false}}, "y": {"datum": -10, "scale": {"domain": [0, 74], "reverse": true, "nice": false, "zero": false}}, "text": {"value": "⊐"}}}
   ]}
  ]},
 {"title": "ELSE", "width": 476, "height": 74, "resolve": {"scale": {"x": "independent"}},
  "layer": [
   {"data": {"name": "bars"}, "transform": [{"filter": "datum.p === 'EL'"}], "mark": {"type": "rect"},
    "encoding": {
     "x": {"field": "s", "type": "quantitative", "scale": {"domain": [50, 65], "nice": false, "zero": false}, "axis": {"orient": "bottom", "title": "Age", "values": [50,51,52,53,54,55,56,57,58,59,60,61,62,63,64,65], "format": "d"}},
     "x2": {"field": "e"},
     "y": {"field": "y0", "type": "quantitative", "scale": {"domain": [0, 74], "reverse": true, "nice": false, "zero": false}, "axis": {"orient": "left", "title": "1 representative(s) (n=561)", "ticks": false, "labels": false, "domain": false, "titlePadding": 61.5, "titleY": 18}},
     "y2": {"field": "y1"},
     "color": {"field": "st", "type": "nominal", "scale": {"domain": ["Not insured","Care","Unemployed","Employment av. low","Employment high","Education/Else","Incapacity","Employment low","Employment av. high","Qualif. period/Retirement"], "range": ["#e7a3c8","#fd8d3c","#807dba","#4292c6","#084594","#74c476","#ef3b2c","#6baed6","#2171b5","#737373"]}, "legend": {"orient": "none", "legendX": 200.5, "legendY": 1029, "columns": 5, "title": null, "symbolType": "square", "symbolSize": 529, "symbolStrokeWidth": 0, "symbolOpacity": 1, "labelFontSize": 13, "labelOffset": 8, "rowPadding": 2, "columnPadding": 9, "direction": "horizontal", "padding": 0}}
    }},
   {"layer": [
     {"data": {"name": "marks"}, "transform": [{"filter": "datum.p === 'EL' && datum.k === 'A'"}], "mark": {"type": "point", "filled": false, "strokeWidth": 3, "size": 100},
      "encoding": {
       "x": {"field": "d", "type": "quantitative", "scale": {"domain": [0, 360], "nice": false, "zero": false}, "axis": {"orient": "top", "title": null, "values": [0, 90, 180, 270, 360]}},
       "y": {"field": "y", "type": "quantitative", "scale": {"domain": [0, 74], "reverse": true, "nice": false, "zero": false}},
       "stroke": {"field": "r", "type": "nominal", "scale": {"domain": ["1","2","3","4","5"], "range": ["#a6cee3","#1f78b4","#b2df8a","#33a02c","#fb9a99"]}, "legend": null},
       "shape": {"field": "r", "type": "nominal", "scale": {"domain": ["1","2","3","4","5"], "range": ["circle","square","diamond","triangle-up","triangle-down"]}, "legend": null}
      }},
     {"data": {"name": "marks"}, "transform": [{"filter": "datum.p === 'EL' && datum.k === 'B'"}], "mark": {"type": "point", "filled": false, "strokeWidth": 3, "size": 120, "shape": "M-1,0A1,1,0,0,0,1,0"},
      "encoding": {
       "x": {"field": "d", "type": "quantitative", "scale": {"domain": [0, 360], "nice": false, "zero": false}},
       "y": {"field": "y", "type": "quantitative", "scale": {"domain": [0, 74], "reverse": true, "nice": false, "zero": false}},
       "stroke": {"field": "r", "type": "nominal", "scale": {"domain": ["1","2","3","4","5"], "range": ["#a6cee3","#1f78b4","#b2df8a","#33a02c","#fb9a99"]}, "legend": null}
      }},
     {"data": {"name": "marks"}, "transform": [{"filter": "datum.p === 'EL' && datum.k === 'L'"}], "mark": {"type": "point", "filled": false, "strokeWidth": 3, "size": 100, "clip": true},
      "encoding": {
       "x": {"field": "d", "type": "quantitative", "scale": {"domain": [0, 360], "nice": false, "zero": false}},
       "y": {"field": "y", "type": "quantitative", "scale": {"domain": [0, 74], "reverse": true, "nice": false, "zero": false}},
       "stroke": {"field": "r", "type": "nominal", "scale": {"domain": ["1","2","3","4","5"], "range": ["#a6cee3","#1f78b4","#b2df8a","#33a02c","#fb9a99"]}, "legend": null},
       "shape": {"field": "r", "type": "nominal", "scale": {"domain": ["1","2","3","4","5"], "range": ["circle","square","diamond","triangle-up","triangle-down"]}, "legend": null}
      }},
     {"data": {"values": [{}]}, "mark": {"type": "text", "align": "center", "baseline": "middle", "fontSize": 16},
      "encoding": {"x": {"datum": 178, "scale": {"domain": [0, 360], "nice": false, "zero": false}}, "y": {"datum": 17, "scale": {"domain": [0, 74], "reverse": true, "nice": false, "zero": false}}, "text": {"value": "Criterion=density, coverage=48.8%"}}},
     {"data": {"values": [{}]}, "mark": {"type": "text", "align": "left", "baseline": "middle", "fontSize": 16, "lineHeight": 14},
      "encoding": {"x": {"datum": 88, "scale": {"domain": [0, 360], "nice": false, "zero": false}}, "y": {"datum": -32, "scale": {"domain": [0, 74], "reverse": true, "nice": false, "zero": false}}, "text": {"value": ["(A) Discrepancy (mean dist. to center)", "(B) Mean dist. to representative seq."]}}},
     {"data": {"values": [{}]}, "mark": {"type": "text", "align": "center", "baseline": "middle", "fontSize": 16},
      "encoding": {"x": {"datum": -21.5, "scale": {"domain": [0, 360], "nice": false, "zero": false}}, "y": {"datum": -5, "scale": {"domain": [0, 74], "reverse": true, "nice": false, "zero": false}}, "text": {"value": "B"}}},
     {"data": {"values": [{}]}, "mark": {"type": "text", "align": "center", "baseline": "middle", "fontSize": 14, "font": "DejaVu Sans"},
      "encoding": {"x": {"datum": -6.4, "scale": {"domain": [0, 360], "nice": false, "zero": false}}, "y": {"datum": -10, "scale": {"domain": [0, 74], "reverse": true, "nice": false, "zero": false}}, "text": {"value": "⊐"}}}
   ]}
  ]}
]
}
